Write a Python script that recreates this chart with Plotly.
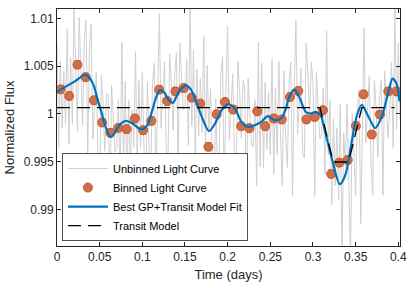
import numpy as np
import plotly.graph_objects as go

# ---- Unbinned light curve (cadence 0.002 d, values read approximately) ----
raw_t0 = 0.0
raw_dt = 0.002
raw_flux = [
    1.0075, 0.9965, 1.0055, 0.9985, 1.0045,
    0.9989, 1.0089, 0.9969, 1.0059, 0.9989,
    1.0111, 1.0031, 0.9981, 1.0101, 1.0031,
    0.9988, 1.0078, 1.0098, 0.9958, 1.0068,
    1.0094, 0.9974, 1.0004, 1.0044, 0.9954,
    0.9921, 1.0041, 1.0011, 0.9961, 1.0021,
    1.0020, 0.9900, 1.0030, 0.9990, 0.9960,
    0.9965, 1.0015, 0.9925, 1.0075, 0.9945,
    1.0034, 0.9924, 1.0014, 0.9944, 1.0004,
    0.9965, 1.0065, 0.9945, 1.0035, 0.9965,
    1.0043, 0.9963, 0.9913, 1.0033, 0.9963,
    0.9943, 1.0033, 1.0053, 0.9913, 1.0023,
    1.0105, 0.9985, 1.0015, 1.0055, 0.9965,
    0.9943, 1.0063, 1.0033, 0.9983, 1.0043,
    1.0064, 0.9944, 1.0074, 1.0034, 1.0004,
    1.0007, 1.0057, 0.9967, 1.0117, 0.9987,
    1.0067, 0.9957, 1.0047, 0.9977, 1.0037,
    0.9981, 1.0081, 0.9961, 1.0051, 0.9981,
    1.0026, 0.9946, 0.9896, 1.0016, 0.9946,
    0.9950, 1.0040, 1.0060, 0.9920, 1.0030,
    1.0092, 0.9972, 1.0002, 1.0042, 0.9952,
    0.9935, 1.0055, 1.0025, 0.9975, 1.0035,
    1.0027, 0.9907, 1.0037, 0.9997, 0.9967,
    0.9965, 1.0015, 0.9925, 1.0075, 0.9945,
    1.0053, 0.9943, 1.0033, 0.9963, 1.0023,
    0.9957, 1.0057, 0.9937, 1.0027, 0.9957,
    1.0055, 0.9975, 0.9925, 1.0045, 0.9975,
    0.9944, 1.0034, 1.0054, 0.9914, 1.0024,
    1.0098, 0.9978, 1.0008, 1.0048, 0.9958,
    0.9954, 1.0074, 1.0044, 0.9994, 1.0054,
    1.0034, 0.9914, 1.0044, 1.0004, 0.9974,
    0.9977, 1.0027, 0.9937, 1.0087, 0.9957,
    1.0015, 0.9905, 0.9995, 0.9925, 0.9985,
    0.9910, 1.0010, 0.9855, 0.9980, 0.9945,
    1.0010, 0.9930, 0.9845, 1.0000, 0.9965,
    0.9915, 1.0005, 1.0025, 0.9885, 0.9995,
    1.0090, 0.9970, 1.0000, 1.0040, 0.9950,
    0.9915, 1.0035, 1.0005, 0.9955, 1.0015,
    1.0035, 0.9915, 1.0045, 1.0005, 0.9975,
    1.0004, 1.0054, 0.9964, 1.0114, 0.9984,
    1.0074, 0.9994,
]
raw_time = [raw_t0 + i * raw_dt for i in range(len(raw_flux))]

# ---- Binned light curve ----
bin_time = [0.0043, 0.0143, 0.0240, 0.0336, 0.0432, 0.0530, 0.0626, 0.0719,
            0.0815, 0.0913, 0.1009, 0.1106, 0.1198, 0.1291, 0.1388, 0.1485,
            0.1581, 0.1679, 0.1775, 0.1871, 0.1969, 0.2065, 0.2158, 0.2254,
            0.2347, 0.2440, 0.2541, 0.2634, 0.2730, 0.2827, 0.2923, 0.3020,
            0.3117, 0.3213, 0.3309, 0.3407, 0.3503, 0.3593, 0.3689, 0.3785,
            0.3883, 0.3979]
bin_flux = [1.00257, 1.00188, 1.00515, 1.00385, 1.00143, 0.99910, 0.99802, 0.99854,
            0.99841, 0.99952, 0.99830, 0.99927, 1.00254, 1.00135, 1.00236, 1.00271,
            1.00171, 1.00108, 0.99656, 0.99997, 1.00125, 1.00046, 0.99872, 0.99851,
            1.00028, 0.99872, 0.99952, 0.99942, 1.00177, 1.00240, 0.99942, 0.99969,
            1.00039, 0.99372, 0.99490, 0.99518, 0.99875, 1.00205, 0.99785, 0.99994,
            1.00236, 1.00236]
bin_err = [0.0004] * len(bin_flux)

# ---- Best GP + transit model fit ----
gp_time = [0.0, 0.00928, 0.02088, 0.03248, 0.03631, 0.04211, 0.04791, 0.05186,
           0.05766, 0.06265, 0.06729, 0.07309, 0.08086, 0.08852, 0.09629, 0.10012,
           0.10592, 0.11172, 0.11566, 0.12065, 0.12529, 0.13109, 0.13573, 0.14269,
           0.15046, 0.15626, 0.16392, 0.16972, 0.17807, 0.18527, 0.19292, 0.20070,
           0.20847, 0.21613, 0.22390, 0.23167, 0.23933, 0.24710, 0.25487, 0.26253,
           0.26833, 0.27146, 0.27807, 0.28387, 0.29153, 0.29733, 0.30313, 0.30893,
           0.31473, 0.32251, 0.33144, 0.33794, 0.34571, 0.35151, 0.35731, 0.36311,
           0.36891, 0.37274, 0.38051, 0.38828, 0.39327, 0.39791, 0.40139]
gp_flux = [1.00229, 1.00281, 1.00341, 1.00410, 1.00393, 1.00317, 1.00143, 1.00021,
           0.99848, 0.99760, 0.99796, 0.99882, 0.99927, 0.99900, 0.99848, 0.99838,
           0.99882, 1.00039, 1.00160, 1.00247, 1.00229, 1.00143, 1.00115, 1.00229,
           1.00299, 1.00265, 1.00108, 0.99969, 0.99820, 0.99900, 1.00039, 1.00101,
           1.00056, 0.99917, 0.99865, 0.99882, 0.99917, 0.99976, 0.99934, 0.99952,
           1.00056, 1.00164, 1.00254, 1.00177, 1.00021, 1.00004, 1.00021, 0.99986,
           0.99796, 0.99518, 0.99265, 0.99361, 0.99726, 0.99986, 1.00096, 1.00004,
           0.99903, 0.99851, 0.99966, 1.00226, 1.00369, 1.00317, 1.00132]

# ---- Transit model ----
tr_time = [0.0, 0.3082, 0.3237, 0.3418, 0.3573, 0.3956]
tr_flux = [1.00067, 1.00067, 0.99497, 0.99497, 1.00067, 1.00067]

x_ticks = [0, 0.05, 0.1, 0.15, 0.2, 0.25, 0.3, 0.35, 0.4]
x_tick_text = ["0", "0.05", "0.1", "0.15", "0.2", "0.25", "0.3", "0.35", "0.4"]
y_ticks = [0.99, 0.995, 1.0, 1.005, 1.01]
y_tick_text = ["0.99", "0.995", "1", "1.005", "1.01"]

FONT = "Liberation Sans, Arial, Helvetica, sans-serif"
AX = "#262626"

fig = go.Figure()
fig.add_trace(go.Scatter(
    x=raw_time, y=raw_flux, mode="lines", name="Unbinned Light Curve",
    line=dict(color="#d0d0d0", width=1.0)))
fig.add_trace(go.Scatter(
    x=bin_time, y=bin_flux, mode="markers", name="Binned Light Curve",
    error_y=dict(type="data", array=bin_err, color="#D95319", thickness=1, width=3),
    marker=dict(size=9, color="#C9704F", line=dict(color="#D95319", width=1))))
fig.add_trace(go.Scatter(
    x=gp_time, y=gp_flux, mode="lines", name="Best GP+Transit Model Fit",
    line=dict(color="#0072BD", width=2.2, shape="spline", smoothing=0.8)))
fig.add_trace(go.Scatter(
    x=tr_time, y=tr_flux, mode="lines", name="Transit Model",
    line=dict(color="#000000", width=1.3, dash="13px,7px")))

axis_common = dict(
    showgrid=False, zeroline=False, showline=True, linecolor=AX, linewidth=0.8,
    mirror="ticks", ticks="inside", ticklen=4, tickcolor=AX, tickwidth=0.8,
    tickfont=dict(family=FONT, size=12, color=AX),
)
fig.update_xaxes(range=[0, 0.402], tickvals=x_ticks, ticktext=x_tick_text,
                 title=dict(text="Time (days)", font=dict(family=FONT, size=13, color=AX), standoff=6),
                 **axis_common)
fig.update_yaxes(range=[0.98618, 1.01098], tickvals=y_ticks, ticktext=y_tick_text,
                 title=dict(text="Normalized Flux", font=dict(family=FONT, size=13, color=AX), standoff=6),
                 **axis_common)

fig.update_layout(
    width=415, height=288,
    margin=dict(l=57, r=12, t=8, b=42),
    paper_bgcolor="white", plot_bgcolor="white",
    font=dict(family=FONT, size=12, color=AX),
    showlegend=True,
    legend=dict(x=0.015, y=0.02, xanchor="left", yanchor="bottom",
                bgcolor="white", bordercolor=AX, borderwidth=0.8,
                font=dict(family=FONT, size=11, color="#000000"),
                itemwidth=40, tracegroupgap=0),
)

fig.write_html("out.html", config={"displayModeBar": False},
               post_script="document.body.style.margin='0';document.body.style.padding='0';")
